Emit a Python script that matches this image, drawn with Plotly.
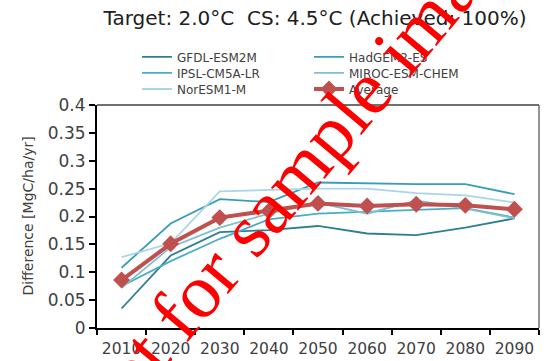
import plotly.graph_objects as go

decades = ["2010", "2020", "2030", "2040", "2050", "2060", "2070", "2080", "2090"]

gfdl_esm2m = [0.035, 0.130, 0.172, 0.1755, 0.183, 0.1695, 0.1665, 0.180, 0.1965]
hadgem2_es = [0.108, 0.1875, 0.231, 0.226, 0.261, 0.259, 0.258, 0.258, 0.240]
ipsl_cm5a_lr = [0.075, 0.120, 0.160, 0.195, 0.205, 0.209, 0.212, 0.215, 0.198]
miroc_esm_chem = [0.072, 0.145, 0.180, 0.205, 0.225, 0.205, 0.229, 0.214, 0.197]
noresm1_m = [0.127, 0.152, 0.245, 0.247, 0.250, 0.250, 0.242, 0.238, 0.225]
average = [0.086, 0.151, 0.198, 0.210, 0.2235, 0.219, 0.222, 0.220, 0.213]

y_ticks = [0, 0.05, 0.1, 0.15, 0.2, 0.25, 0.3, 0.35, 0.4]
y_tick_labels = ["0", "0.05", "0.1", "0.15", "0.2", "0.25", "0.3", "0.35", "0.4"]

FONT = "DejaVu Sans"
TXT = "#404040"

# plotting area in pixels
L, R, T, B = 97, 539, 105, 327.7
PW, PH = R - L, B - T

fig = go.Figure()

# (name, values, colour, legend id, legend column x, legend row y)
models = [
    ("GFDL-ESM2M", gfdl_esm2m, "#2E7F93", "legend", 137, 57),
    ("HadGEM2-ES", hadgem2_es, "#3A9CB6", "legend2", 309, 57),
    ("IPSL-CM5A-LR", ipsl_cm5a_lr, "#4BACC6", "legend3", 137, 73),
    ("MIROC-ESM-CHEM", miroc_esm_chem, "#7CC0D3", "legend4", 309, 73),
    ("NorESM1-M", noresm1_m, "#A9D6E3", "legend5", 137, 89),
]

legend_common = dict(
    font=dict(family=FONT, size=12, color=TXT),
    bgcolor="rgba(0,0,0,0)", borderwidth=0,
    yanchor="middle", xanchor="left", orientation="v",
    itemwidth=30,
)
legends = {}

for name, vals, color, lg, lx, ly in models:
    fig.add_trace(go.Scatter(
        x=decades, y=vals, name=name, mode="lines",
        line=dict(color=color, width=1.8), legend=lg,
    ))
    legends[lg] = dict(x=(lx - L) / PW, y=1 + (T - ly) / PH, **legend_common)

fig.add_trace(go.Scatter(
    x=decades, y=average, name="Average", mode="lines+markers",
    line=dict(color="#C0504D", width=4),
    marker=dict(symbol="diamond", size=13, color="#C0504D"),
    legend="legend6",
))
legends["legend6"] = dict(x=(309 - L) / PW, y=1 + (T - 89) / PH, **legend_common)

fig.update_layout(
    width=549, height=361,
    margin=dict(l=L, r=549 - R, t=T, b=361 - B, autoexpand=False),
    paper_bgcolor="white", plot_bgcolor="white",
    title=dict(
        text="Target: 2.0°C  CS: 4.5°C (Achieved: 100%)",
        font=dict(family=FONT, size=20, color="#202020"),
        x=315 / 549, xanchor="center", y=1 - 18 / 361, yanchor="middle",
    ),
    xaxis=dict(
        type="category", range=[-0.5, 8.5],
        showline=True, linecolor="black", linewidth=2,
        ticks="outside", tickson="boundaries", ticklen=5, tickwidth=2,
        tickcolor="black", showgrid=False, zeroline=False,
        ticklabelstandoff=5, tickangle=0, automargin=False,
        tickfont=dict(family=FONT, size=15.5, color=TXT),
    ),
    yaxis=dict(
        range=[0, 0.4], tickvals=y_ticks, ticktext=y_tick_labels,
        showline=True, linecolor="black", linewidth=2,
        ticks="outside", ticklen=6, tickwidth=2, tickcolor="black",
        showgrid=False, zeroline=False, automargin=False,
        tickfont=dict(family=FONT, size=17, color=TXT),
    ),
    showlegend=True,
    **legends,
)

# frame on the top and right sides of the plotting area
fig.add_shape(type="line", xref="paper", yref="paper", x0=0, x1=1, y0=1, y1=1,
              line=dict(color="#707070", width=2))
fig.add_shape(type="line", xref="paper", yref="paper", x0=1, x1=1, y0=0, y1=1,
              line=dict(color="#707070", width=1.5))

fig.add_annotation(
    text="Difference [MgC/ha/yr]", xref="paper", yref="paper",
    x=(27 - L) / PW, y=0.5, xanchor="center", yanchor="middle",
    textangle=-90, showarrow=False,
    font=dict(family=FONT, size=14, color=TXT),
)

# diagonal watermark
fig.add_annotation(
    text="Not for sample image", xref="paper", yref="paper",
    x=(294 - L) / PW, y=(B - 175) / PH, xanchor="center", yanchor="middle",
    textangle=-50, showarrow=False,
    font=dict(family="Liberation Serif", size=77, color="#FF0000"),
)

fig.write_html("out.html")
